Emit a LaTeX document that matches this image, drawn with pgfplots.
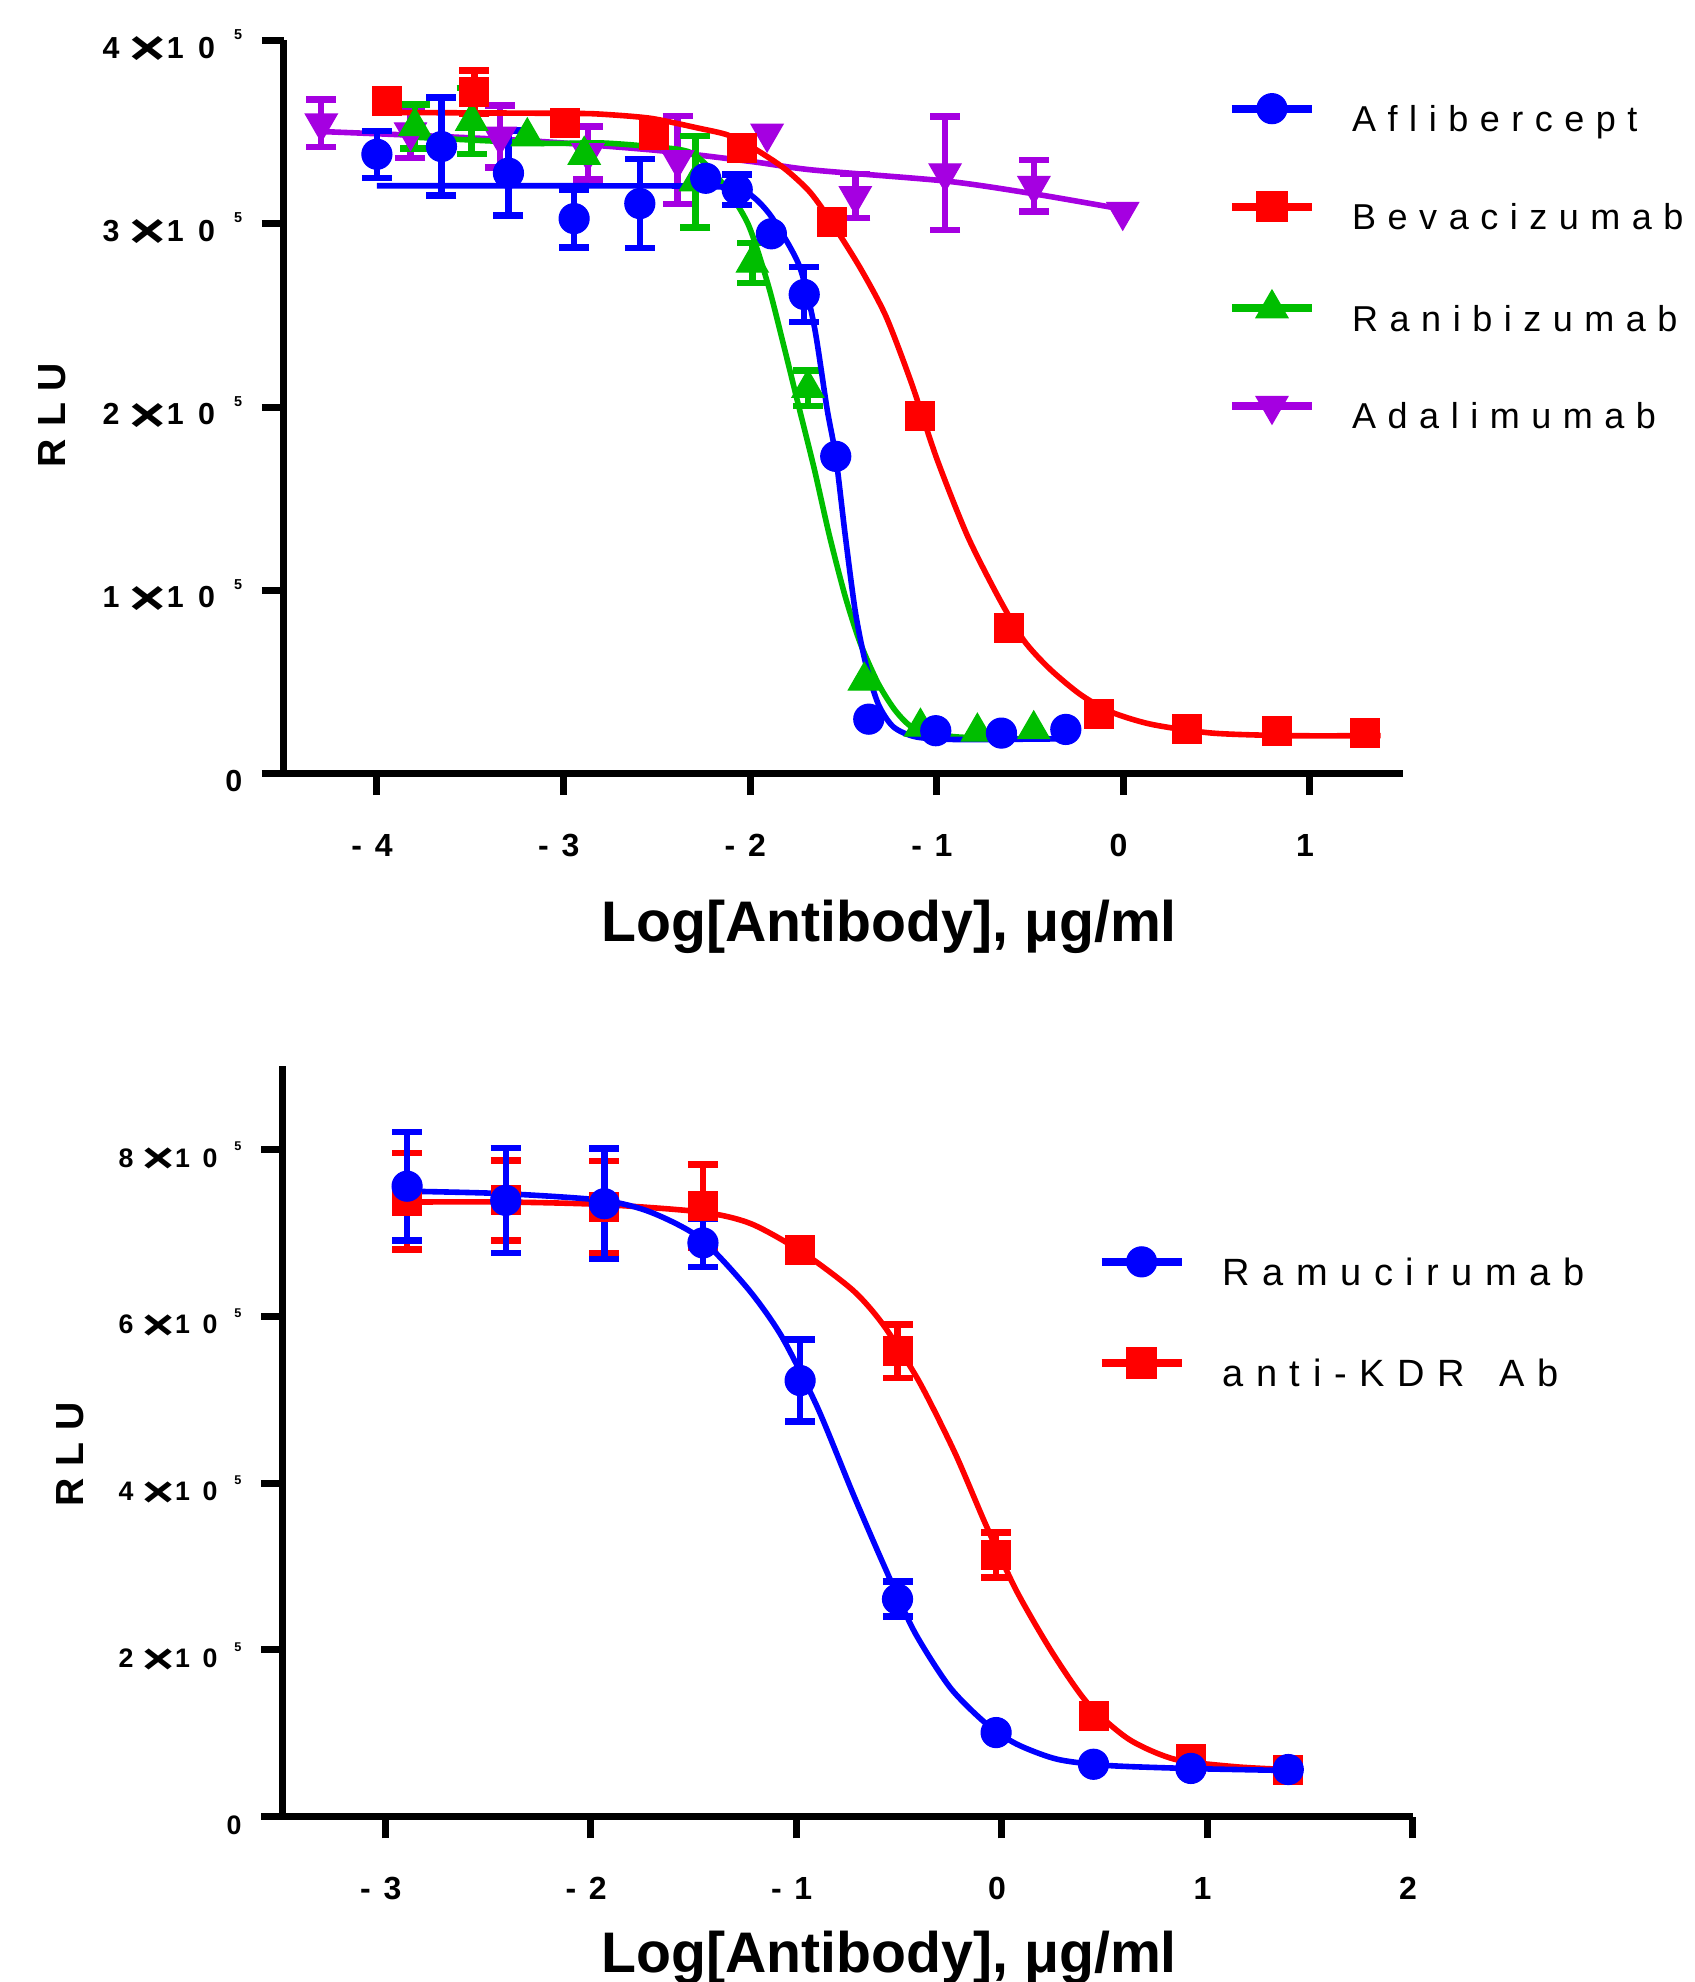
\documentclass[border=0pt]{standalone}
\usepackage{fontspec}
\setmainfont{Liberation Sans}
\usepackage{graphicx}
\usepackage{pgfplots}
\pgfplotsset{compat=1.18}

\definecolor{cblue}{RGB}{0,0,255}
\definecolor{cred}{RGB}{255,0,0}
\definecolor{cgreen}{RGB}{0,190,0}
\definecolor{cpurple}{RGB}{165,0,225}

% Prism-style tick label: n x10^5 with a wide times sign and a tiny exponent
\newcommand\sci[1]{#1\hspace{2.5pt}\raisebox{-1.6pt}{\scalebox{1.3}[1]{\fontsize{12}{12}\selectfont ×}}%
  \hspace{0.2pt}1\hspace{3.6pt}0\hspace{4.8pt}\raisebox{4.6pt}{\fontsize{3.6}{4}\selectfont 5}}
\newcommand\scib[1]{\scalebox{0.88}{\sci{#1}}}

\pgfplotsset{
  prism/.style={
    scale only axis, clip=false,
    axis lines*=left,
    axis line style={line width=1.75pt,-},
    tick style={line width=1.75pt,black},
    tick align=outside, major tick length=5.4pt,
    scaled y ticks=false,
    xticklabel style={anchor=base, inner sep=0pt, yshift=-15.35pt, xshift=-1.2pt,
      font=\fontsize{8}{8}\selectfont\bfseries\addfontfeature{LetterSpace=40}},
    yticklabel style={anchor=base east, inner sep=0pt, xshift=-4.75pt, yshift=-4.4pt,
      font=\fontsize{7.6}{8}\selectfont\bfseries},
    legend cell align=left,
    legend image code/.code={
      \path[draw=none,fill=none] (0pt,-6pt) rectangle (20pt,6pt);
      \draw[mark repeat=2,mark phase=2,##1] plot coordinates {(0pt,2.5pt)(10pt,2.5pt)(20pt,2.5pt)};},
  },
  fit/.style={line width=1.4pt, smooth, tension=0.45, forget plot},
  pts/.style={only marks, color=#1, forget plot,
    mark options={solid, fill=#1, draw=#1, line width=0.3pt}},
  ebars/.style={error bars/.cd, y dir=both, y explicit,
    error bar style={line width=1.6pt},
    error mark options={rotate=90, mark size=3.75pt, line width=1.6pt}},
  circ/.style={mark=*, mark size=3.75pt},
  sqr/.style={mark=square*, mark size=3.6pt},
  tup/.style={mark=triangle*, mark size=4.6pt},
}

\begin{document}
\begin{tikzpicture}

% ---------------- top panel ----------------
\begin{axis}[prism, at={(70.9pt,-193.4pt)}, anchor=south west,
  width=279.9pt, height=183.3pt,
  xmin=-4.5, xmax=1.5, ymin=0, ymax=4e5,
  xtick={-4,-3,-2,-1,0,1}, xticklabels={-4,-3,-2,-1,0,1},
  ytick={0,1e5,2e5,3e5,4e5}, yticklabels={0,\sci1,\sci2,\sci3,\sci4},
  legend style={at={(0.8435,0.9274)}, anchor=north west, draw=none, fill=none,
    inner sep=0pt, outer sep=0pt, row sep=12.3pt,
    nodes={inner sep=0pt, outer sep=0pt, text height=6.5pt, text depth=0pt},
    font=\fontsize{9}{10}\selectfont\addfontfeature{LetterSpace=32},
    /tikz/every odd column/.append style={column sep=9.05pt}}]

% Adalimumab
\addplot[fit, cpurple] coordinates {
 (-4.298,3.503e5) (-3.700,3.478e5) (-3.112,3.448e5) (-2.500,3.400e5) (-1.984,3.338e5)
 (-1.663,3.293e5) (-0.944,3.232e5) (-0.479,3.163e5) (-0.003,3.079e5)};
\addplot[pts=cpurple, tup, mark options={solid, fill=cpurple, draw=cpurple, line width=0.3pt, rotate=180}, ebars]
 coordinates {
 (-4.298,3.548e5) +- (0,0.13e5)
 (-3.820,3.500e5) +- (0,0.14e5)
 (-3.340,3.476e5) +- (0,0.17e5)
 (-2.869,3.386e5) +- (0,0.145e5)
 (-2.388,3.348e5) +- (0,0.24e5)
 (-1.436,3.152e5) +- (0,0.12e5)
 (-0.955,3.276e5) +- (0,0.31e5)
 (-0.479,3.207e5) +- (0,0.14e5)};
\addplot[pts=cpurple, tup, mark options={solid, fill=cpurple, draw=cpurple, line width=0.3pt, rotate=180}]
 coordinates {(-1.909,3.492e5) (-0.003,3.066e5)};

% Ranibizumab
\addplot[fit, cgreen] coordinates {
 (-3.797,3.472e5) (-3.112,3.439e5) (-2.804,3.441e5) (-2.537,3.421e5) (-2.313,3.386e5)
 (-2.148,3.221e5) (-2.010,2.996e5) (-1.902,2.662e5) (-1.818,2.328e5) (-1.737,1.994e5)
 (-1.656,1.662e5) (-1.575,1.299e5) (-1.490,0.966e5) (-1.410,0.713e5) (-1.313,0.491e5)
 (-1.217,0.338e5) (-1.110,0.241e5) (-0.890,0.200e5) (-0.479,0.190e5)};
\addplot[pts=cgreen, tup, ebars] coordinates {
 (-3.797,3.531e5) +- (0,0.12e5)
 (-3.492,3.560e5) +- (0,0.18e5)
 (-2.293,3.230e5) +- (0,0.25e5)
 (-1.988,2.786e5) +- (0,0.11e5)
 (-1.690,2.103e5) +- (0,0.097e5)};
\addplot[pts=cgreen, tup] coordinates {
 (-3.194,3.476e5) (-2.889,3.375e5) (-1.388,0.506e5) (-1.087,0.255e5)
 (-0.782,0.228e5) (-0.480,0.241e5)};

% Bevacizumab
\addplot[fit, cred] coordinates {
 (-3.946,3.607e5) (-2.997,3.602e5) (-2.804,3.598e5) (-2.533,3.575e5) (-2.270,3.520e5)
 (-2.120,3.484e5) (-1.984,3.414e5) (-1.818,3.303e5) (-1.683,3.177e5) (-1.573,3.023e5)
 (-1.410,2.759e5) (-1.272,2.495e5) (-1.136,2.133e5) (-0.999,1.717e5) (-0.836,1.299e5)
 (-0.671,0.966e5) (-0.534,0.728e5) (-0.397,0.574e5) (-0.233,0.434e5) (-0.070,0.338e5)
 (0.150,0.269e5) (0.477,0.221e5) (0.889,0.207e5) (1.379,0.207e5)};
\addplot[pts=cred, sqr, ebars] coordinates {(-3.478,3.717e5) +- (0,0.12e5)};
\addplot[pts=cred, sqr] coordinates {
 (-3.946,3.669e5) (-2.990,3.552e5) (-2.516,3.483e5) (-2.042,3.414e5) (-1.561,3.007e5)
 (-1.087,1.952e5) (-0.612,0.793e5) (-0.131,0.324e5) (0.343,0.241e5) (0.824,0.234e5)
 (1.298,0.221e5)};

% Aflibercept
\addplot[fit, cblue] coordinates {
 (-4.000,3.207e5) (-3.000,3.207e5) (-2.300,3.205e5) (-2.065,3.191e5) (-1.970,3.135e5)
 (-1.876,3.024e5) (-1.737,2.772e5) (-1.656,2.441e5) (-1.588,1.993e5) (-1.541,1.731e5)
 (-1.490,1.299e5) (-1.436,0.883e5) (-1.381,0.603e5) (-1.313,0.379e5) (-1.232,0.255e5)
 (-1.110,0.200e5) (-0.890,0.186e5) (-0.308,0.190e5)};
\addplot[pts=cblue, circ, ebars] coordinates {
 (-4.000,3.379e5) +- (0,0.128e5)
 (-3.654,3.421e5) +- (0,0.268e5)
 (-3.295,3.276e5) +- (0,0.232e5)
 (-2.943,3.028e5) +- (0,0.157e5)
 (-2.591,3.110e5) +- (0,0.242e5)
 (-2.069,3.186e5) +- (0,0.083e5)
 (-1.710,2.614e5) +- (0,0.150e5)};
\addplot[pts=cblue, circ] coordinates {
 (-2.238,3.248e5) (-1.886,2.945e5) (-1.541,1.731e5) (-1.364,0.297e5)
 (-1.005,0.234e5) (-0.653,0.221e5) (-0.308,0.241e5)};

\addlegendimage{cblue, line width=2pt, mark=*, mark size=3.75pt, mark options={solid, fill=cblue, line width=0.3pt}}
\addlegendentry{Aflibercept}
\addlegendimage{cred, line width=2pt, mark=square*, mark size=3.75pt, mark options={solid, fill=cred, line width=0.3pt}}
\addlegendentry{Bevacizumab}
\addlegendimage{cgreen, line width=2pt, mark=triangle*, mark size=4.6pt, mark options={solid, fill=cgreen, line width=0.3pt}}
\addlegendentry{Ranibizumab}
\addlegendimage{cpurple, line width=2pt, mark=triangle*, mark size=4.6pt, mark options={solid, fill=cpurple, line width=0.3pt, rotate=180}}
\addlegendentry{Adalimumab}
\end{axis}

% ---------------- bottom panel ----------------
\begin{axis}[prism, at={(70.7pt,-454.2pt)}, anchor=south west,
  width=282.5pt, height=187.7pt,
  xmin=-3.5, xmax=2, ymin=0, ymax=9e5,
  xtick={-3,-2,-1,0,1,2}, xticklabels={-3,-2,-1,0,1,2},
  ytick={0,2e5,4e5,6e5,8e5}, yticklabels={\scalebox{0.88}{0},\scib2,\scib4,\scib6,\scib8},
  legend style={at={(0.7211,0.7592)}, anchor=north west, draw=none, fill=none,
    inner sep=0pt, outer sep=0pt, row sep=13.05pt,
    nodes={inner sep=0pt, outer sep=0pt, text height=6.8pt, text depth=0pt},
    font=\fontsize{9.5}{10}\selectfont\addfontfeature{LetterSpace=33},
    /tikz/every odd column/.append style={column sep=9.25pt}}]

% anti-KDR Ab
\addplot[fit, cred] coordinates {
 (-2.895,7.37e5) (-2.418,7.37e5) (-1.943,7.34e5) (-1.460,7.25e5) (-1.221,7.11e5)
 (-0.972,6.77e5) (-0.724,6.31e5) (-0.575,5.89e5) (-0.401,5.21e5) (-0.228,4.36e5)
 (-0.078,3.50e5) (0.071,2.71e5) (0.245,1.97e5) (0.418,1.36e5) (0.618,0.93e5)
 (0.841,0.69e5) (1.139,0.60e5) (1.397,0.566e5)};
\addplot[pts=cred, sqr, ebars] coordinates {
 (-2.895,7.38e5) +- (0,0.58e5)
 (-2.415,7.39e5) +- (0,0.48e5)
 (-1.935,7.31e5) +- (0,0.55e5)
 (-1.455,7.32e5) +- (0,0.50e5)
 (-0.508,5.58e5) +- (0,0.32e5)
 (-0.028,3.14e5) +- (0,0.27e5)};
\addplot[pts=cred, sqr] coordinates {
 (-0.982,6.80e5) (0.446,1.21e5) (0.920,0.69e5) (1.394,0.566e5)};

% Ramucirumab
\addplot[fit, cblue] coordinates {
 (-2.895,7.50e5) (-2.418,7.47e5) (-1.943,7.39e5) (-1.711,7.25e5) (-1.470,6.94e5)
 (-1.236,6.33e5) (-1.072,5.76e5) (-0.898,4.91e5) (-0.724,3.87e5) (-0.575,3.02e5)
 (-0.426,2.22e5) (-0.252,1.55e5) (-0.078,1.12e5) (0.071,0.873e5) (0.270,0.69e5)
 (0.518,0.615e5) (0.916,0.579e5) (1.397,0.555e5)};
\addplot[pts=cblue, circ, ebars] coordinates {
 (-2.895,7.56e5) +- (0,0.65e5)
 (-2.415,7.39e5) +- (0,0.63e5)
 (-1.935,7.35e5) +- (0,0.66e5)
 (-1.455,6.88e5) +- (0,0.29e5)
 (-0.982,5.23e5) +- (0,0.49e5)
 (-0.508,2.61e5) +- (0,0.21e5)};
\addplot[pts=cblue, circ] coordinates {
 (-0.028,1.01e5) (0.446,0.63e5) (0.920,0.58e5) (1.394,0.567e5)};

\addlegendimage{cblue, line width=2pt, mark=*, mark size=3.75pt, mark options={solid, fill=cblue, line width=0.3pt}}
\addlegendentry{Ramucirumab}
\addlegendimage{cred, line width=2pt, mark=square*, mark size=3.75pt, mark options={solid, fill=cred, line width=0.3pt}}
\addlegendentry{anti-KDR\hspace{3pt} Ab}
\end{axis}

% axis titles
\node[anchor=base, font=\fontsize{14.3}{16}\selectfont\bfseries] at (222.3pt,-235.4pt) {Log[Antibody], μg/ml};
\node[anchor=base, font=\fontsize{14.3}{16}\selectfont\bfseries] at (222.3pt,-493.2pt) {Log[Antibody], μg/ml};
\node[rotate=90, font=\fontsize{9.8}{11}\selectfont\bfseries\addfontfeature{LetterSpace=30}] at (13.1pt,-103.75pt) {RLU};
\node[rotate=90, font=\fontsize{9.8}{11}\selectfont\bfseries\addfontfeature{LetterSpace=30}] at (17.6pt,-363.5pt) {RLU};

\pgfresetboundingbox
\path[use as bounding box] (0pt,0pt) rectangle (423.5pt,-495.5pt);
\end{tikzpicture}
\end{document}
